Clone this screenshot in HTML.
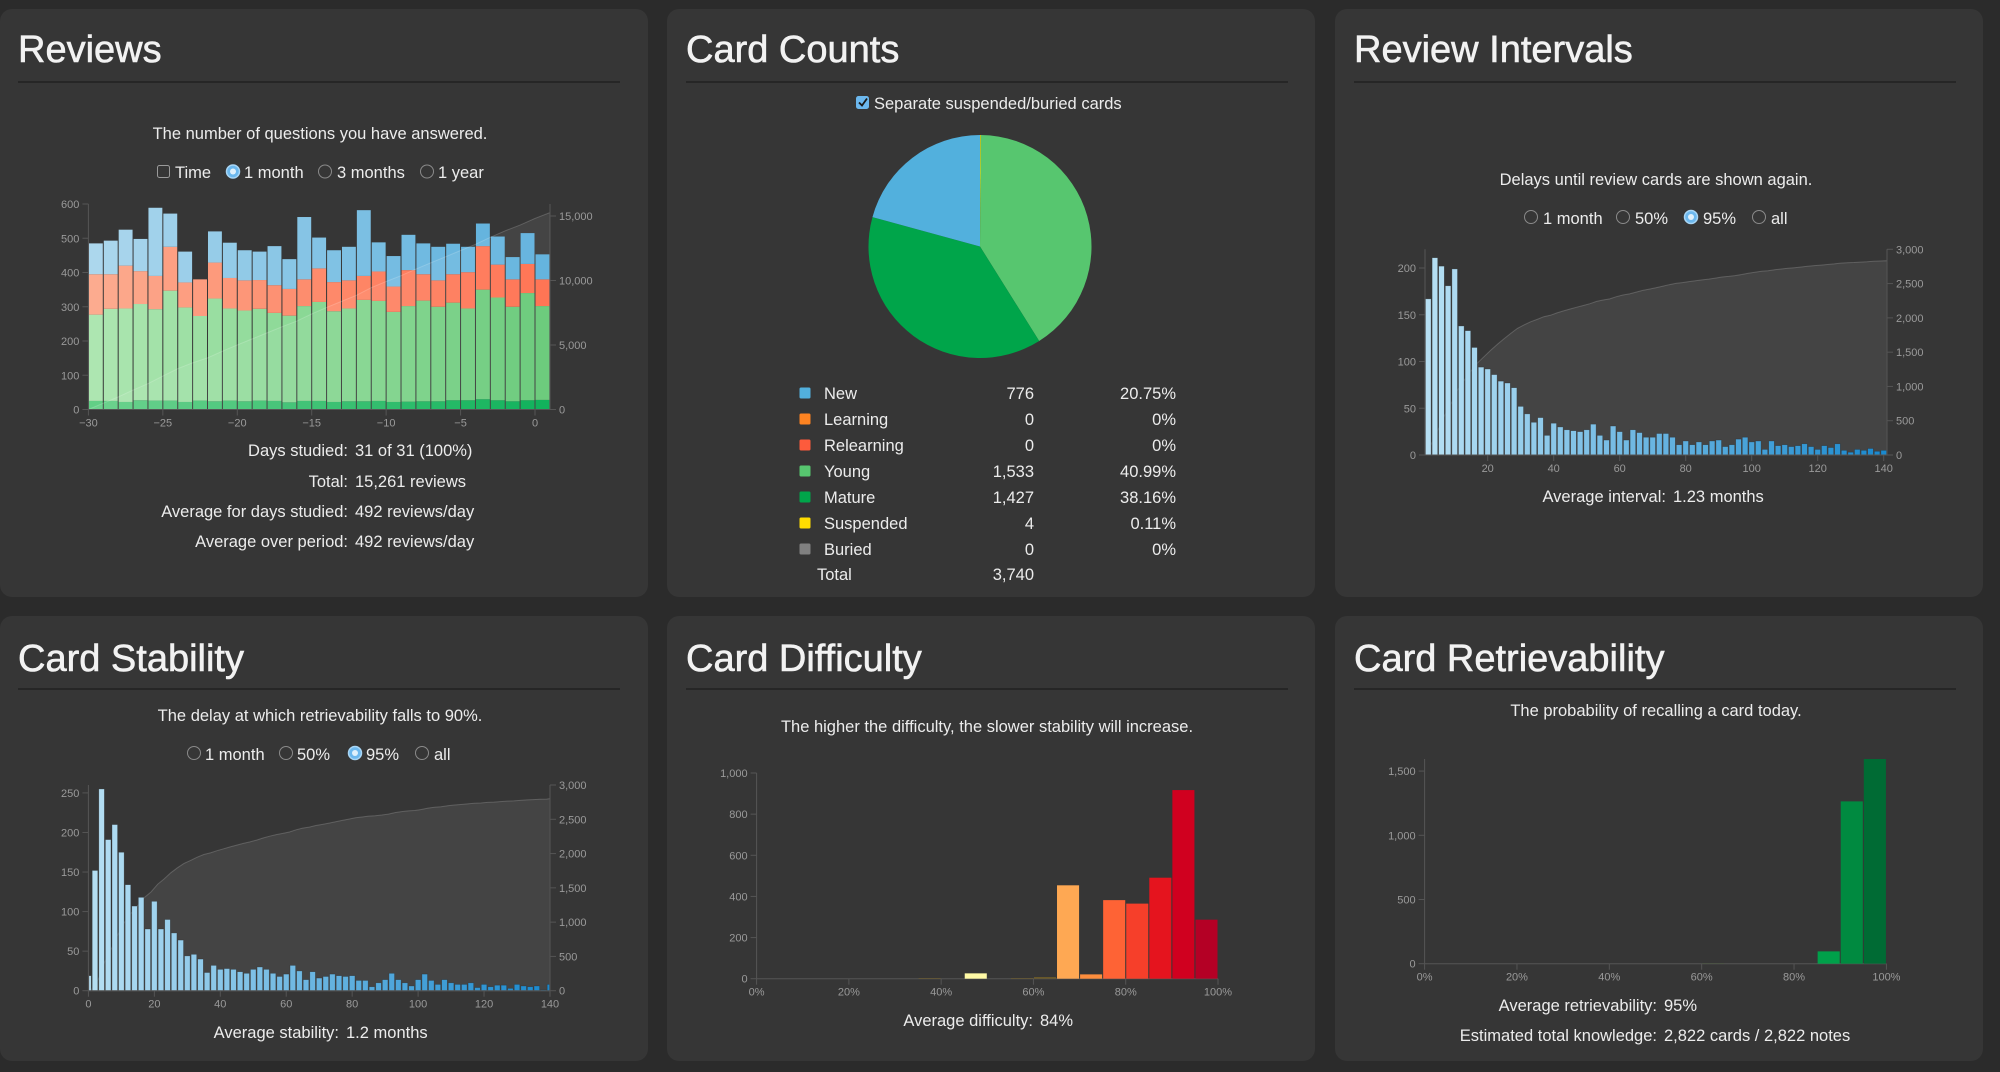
<!DOCTYPE html>
<html><head><meta charset="utf-8">
<style>
html,body{margin:0;padding:0;background:#2b2b2b;}
svg{display:block;font-family:"Liberation Sans",sans-serif;}
.t{fill:#f2f2f2;font-size:38px;stroke:#f2f2f2;stroke-width:0.6px;}
.d{fill:#ececec;font-size:16.5px;}
.tk{fill:#9a9a9a;font-size:11px;}
</style></head>
<body>
<svg id="root" width="2000" height="1072" viewBox="0 0 2000 1072" xmlns="http://www.w3.org/2000/svg">
<rect x="0" y="0" width="2000" height="1072" fill="#2b2b2b"/>
<rect x="0" y="9" width="648" height="588" rx="12" fill="#363636"/>
<rect x="667" y="9" width="648" height="588" rx="12" fill="#363636"/>
<rect x="1335" y="9" width="648" height="588" rx="12" fill="#363636"/>
<rect x="0" y="616" width="648" height="445" rx="12" fill="#363636"/>
<rect x="667" y="616" width="648" height="445" rx="12" fill="#363636"/>
<rect x="1335" y="616" width="648" height="445" rx="12" fill="#363636"/>
<text class="t" x="18" y="62">Reviews</text>
<text class="t" x="686" y="62">Card Counts</text>
<text class="t" x="1354" y="62">Review Intervals</text>
<text class="t" x="18" y="671">Card Stability</text>
<text class="t" x="686" y="671">Card Difficulty</text>
<text class="t" x="1354" y="671">Card Retrievability</text>
<g stroke="#262626" stroke-width="2">
<line x1="18" y1="82" x2="620" y2="82"/>
<line x1="686" y1="82" x2="1288" y2="82"/>
<line x1="1354" y1="82" x2="1956" y2="82"/>
<line x1="18" y1="689" x2="620" y2="689"/>
<line x1="686" y1="689" x2="1288" y2="689"/>
<line x1="1354" y1="689" x2="1956" y2="689"/>
</g>
<text class="d" x="320" y="139" text-anchor="middle">The number of questions you have answered.</text>
<text class="d" x="1656" y="185" text-anchor="middle">Delays until review cards are shown again.</text>
<text class="d" x="320" y="721" text-anchor="middle">The delay at which retrievability falls to 90%.</text>
<text class="d" x="987" y="732" text-anchor="middle">The higher the difficulty, the slower stability will increase.</text>
<text class="d" x="1656" y="716" text-anchor="middle">The probability of recalling a card today.</text>
<g><rect x="157.5" y="165.5" width="12" height="12" rx="2" fill="none" stroke="#9a9a9a"/><text class="d" x="175" y="178">Time</text></g>
<g><circle cx="233" cy="171.5" r="6.5" fill="#6cb8ee" stroke="#a9d6f5" stroke-width="1.5"/><circle cx="233" cy="171.5" r="3" fill="#dff0fb"/><text class="d" x="244" y="178">1 month</text></g>
<g><circle cx="325" cy="171.5" r="6.5" fill="none" stroke="#8a8a8a"/><text class="d" x="337" y="178">3 months</text></g>
<g><circle cx="427" cy="171.5" r="6.5" fill="none" stroke="#8a8a8a"/><text class="d" x="438" y="178">1 year</text></g>
<g><circle cx="1531" cy="217" r="6.5" fill="none" stroke="#8a8a8a"/><text class="d" x="1543" y="224">1 month</text></g>
<g><circle cx="1623" cy="217" r="6.5" fill="none" stroke="#8a8a8a"/><text class="d" x="1635" y="224">50%</text></g>
<g><circle cx="1691" cy="217" r="6.5" fill="#6cb8ee" stroke="#a9d6f5" stroke-width="1.5"/><circle cx="1691" cy="217" r="3" fill="#dff0fb"/><text class="d" x="1703" y="224">95%</text></g>
<g><circle cx="1759" cy="217" r="6.5" fill="none" stroke="#8a8a8a"/><text class="d" x="1771" y="224">all</text></g>
<g><circle cx="194" cy="753" r="6.5" fill="none" stroke="#8a8a8a"/><text class="d" x="205" y="760">1 month</text></g>
<g><circle cx="286" cy="753" r="6.5" fill="none" stroke="#8a8a8a"/><text class="d" x="297" y="760">50%</text></g>
<g><circle cx="355" cy="753" r="6.5" fill="#6cb8ee" stroke="#a9d6f5" stroke-width="1.5"/><circle cx="355" cy="753" r="3" fill="#dff0fb"/><text class="d" x="366" y="760">95%</text></g>
<g><circle cx="422" cy="753" r="6.5" fill="none" stroke="#8a8a8a"/><text class="d" x="434" y="760">all</text></g>
<g><rect x="856" y="96" width="13" height="13" rx="2.5" fill="#6cb8ee"/><path d="M859 102.5 l3 3 l5 -7" stroke="#1a1a1a" stroke-width="1.8" fill="none"/><text class="d" x="874" y="109">Separate suspended/buried cards</text></g>
<g class="d">
<text class="d" x="348" y="456" text-anchor="end">Days studied:</text><text class="d" x="355" y="456">31 of 31 (100%)</text>
<text class="d" x="348" y="487" text-anchor="end">Total:</text><text class="d" x="355" y="487">15,261 reviews</text>
<text class="d" x="348" y="517" text-anchor="end">Average for days studied:</text><text class="d" x="355" y="517">492 reviews/day</text>
<text class="d" x="348" y="547" text-anchor="end">Average over period:</text><text class="d" x="355" y="547">492 reviews/day</text>
</g>
<g><text class="d" x="1666" y="502" text-anchor="end">Average interval:</text><text class="d" x="1673" y="502">1.23 months</text></g>
<g><text class="d" x="339" y="1038" text-anchor="end">Average stability:</text><text class="d" x="346" y="1038">1.2 months</text></g>
<g><text class="d" x="1033" y="1026" text-anchor="end">Average difficulty:</text><text class="d" x="1040" y="1026">84%</text></g>
<g><text class="d" x="1657" y="1011" text-anchor="end">Average retrievability:</text><text class="d" x="1664" y="1011">95%</text>
<text class="d" x="1657" y="1041" text-anchor="end">Estimated total knowledge:</text><text class="d" x="1664" y="1041">2,822 cards / 2,822 notes</text></g>
<g id="charts"></g>
</svg>
<script>
const revDays=[-30,-29,-28,-27,-26,-25,-24,-23,-22,-21,-20,-19,-18,-17,-16,-15,-14,-13,-12,-11,-10,-9,-8,-7,-6,-5,-4,-3,-2,-1,0];
const revMature=[25,25,22,27,26,26,22,26,24,26,24,26,25,21,25,25,22,24,24,25,22,23,24,24,27,27,30,27,24,27,28];
const revYoung=[252,269,273,281,267,321,276,247,300,269,265,268,257,253,277,289,265,271,296,292,263,279,294,276,285,268,320,300,276,313,274];
const revLearn=[118,101,125,96,97,128,73,107,105,89,88,84,81,78,78,98,85,82,70,86,74,105,77,77,83,106,127,96,80,85,78];
const revNew=[90,98,105,94,199,97,90,0,91,103,88,83,114,87,182,90,93,98,192,85,89,103,90,98,89,74,66,82,65,90,73];
const revLeftTicks=[0,100,200,300,400,500,600];
const revRightTicks=[0,5000,10000,15000];
const revXTicks=[-30,-25,-20,-15,-10,-5,0];
const ccLabels=["New","Learning","Relearning","Young","Mature","Suspended","Buried"];
const ccCounts=[776,0,0,1533,1427,4,0];
const ccPercents=["20.75%","0%","0%","40.99%","38.16%","0.11%","0%"];
const ccColors=["#52b0dd","#fd8321","#fd5b3c","#57c66f","#00a54a","#ffdc00","#808080"];
const ccPieOrder=[5,3,4,0];
const intVals=[167,211,202,181,199,138,133,115,94,92,86,79,77,72,52,44,35,40,21,34,30,27,26,25,27,33,21,16,31,25,16,27,24,19,19,23,23,19,11,15,11,14,11,15,16,9,11,17,19,14,15,6,15,10,11,9,10,12,9,6,10,8,12,5,3,6,5,7,4,5];
const intLeftTicks=[0,50,100,150,200];
const intRightTicks=[0,500,1000,1500,2000,2500,3000];
const intXTicks=[20,40,60,80,100,120,140];
const stabVals=[19,152,255,191,210,175,134,107,118,78,113,78,90,73,64,44,46,40,23,32,27,28,27,24,22,27,30,27,22,18,21,32,25,14,24,16,18,21,19,18,19,13,13,5,10,14,22,14,10,6,14,21,13,8,14,10,8,8,10,4,8,5,7,7,3,8,6,5,6,1,8];
const stabLeftTicks=[0,50,100,150,200,250];
const stabRightTicks=[0,500,1000,1500,2000,2500,3000];
const stabXTicks=[0,20,40,60,80,100,120,140];
const diffVals=[0,0,0,0,0,0,0,3,0,26,0,3,8,454,21,382,365,491,917,287];
const diffLeftTicks=[0,200,400,600,800,1000];
const pctTicks=[0,20,40,60,80,100];
const retVals=[0,0,0,0,0,0,0,0,0,0,0,0,3,0,0,0,0,96,1264,1594];
const retLeftTicks=[0,500,1000,1500];

const NS='http://www.w3.org/2000/svg';
const root=document.getElementById('charts');
function mk(tag,parent){const e=document.createElementNS(NS,tag);parent.appendChild(e);return e;}
function lin(d0,d1,r0,r1){return v=>r0+(v-d0)/(d1-d0)*(r1-r0);}
function hex(c){return [parseInt(c.slice(1,3),16),parseInt(c.slice(3,5),16),parseInt(c.slice(5,7),16)];}
function mix(a,b,t){const A=hex(a),B=hex(b);return 'rgb('+A.map((v,i)=>Math.round(v+(B[i]-v)*t)).join(',')+')';}
function fmt(v){return v.toLocaleString('en-US');}
function txt(parent,x,y,s,anchor){const t=mk('text',parent);t.setAttribute('x',x);t.setAttribute('y',y);t.setAttribute('class','tk');t.setAttribute('text-anchor',anchor);t.textContent=s;return t;}
function line(parent,x1,y1,x2,y2){const l=mk('line',parent);l.setAttribute('x1',x1);l.setAttribute('y1',y1);l.setAttribute('x2',x2);l.setAttribute('y2',y2);l.setAttribute('stroke','#555');l.setAttribute('stroke-width','1');return l;}
function leftAxis(g,ticks,y,x,yTop,yBot,label){
  const ax=mk('g',g);
  
  
  line(ax,x,yTop,x,yBot);
  ticks.forEach(t=>{line(ax,x-6,y(t),x,y(t));txt(ax,x-9,y(t)+4,label?label(t):fmt(t),'end');});
}
function rightAxis(g,ticks,y,x,yTop,yBot){
  const ax=mk('g',g);
  
  
  line(ax,x,yTop,x,yBot);
  ticks.forEach(t=>{line(ax,x,y(t),x+6,y(t));txt(ax,x+9,y(t)+4,fmt(t),'start');});
}
function bottomAxis(g,ticks,x,y0,x0,x1,label){
  const ax=mk('g',g);
  
  
  line(ax,x0,y0,x1,y0);
  ticks.forEach(t=>{line(ax,x(t),y0,x(t),y0+6);txt(ax,x(t),y0+17,label(t),'middle');});
}
function rect(parent,x,y,w,h,fill){const r=mk('rect',parent);r.setAttribute('x',x);r.setAttribute('y',y);r.setAttribute('width',Math.max(0,w));r.setAttribute('height',Math.max(0,h));r.setAttribute('fill',fill);return r;}
function area(parent,pts,y0){
  const p=mk('path',parent);
  let d='M'+pts[0][0]+','+y0;pts.forEach(q=>d+='L'+q[0].toFixed(1)+','+q[1].toFixed(1));d+='L'+pts[pts.length-1][0]+','+y0+'Z';
  p.setAttribute('d',d);p.setAttribute('fill','rgba(255,255,255,0.07)');p.setAttribute('stroke','rgba(255,255,255,0.18)');p.setAttribute('stroke-width','1');
  return p;
}

(function(){
  const g=mk('g',root);
  
  
  const x=lin(-30,0,88.4,535),y=lin(0,600,409.5,204),yr=lin(0,15930,409.5,204);
  const bw=x(-29)-x(-30);
  revDays.forEach((d,i)=>{
    const t=i/(revDays.length-1);
    const segs=[[revMature[i],mix('#62cf86','#00ad50',t),'mature'],[revYoung[i],mix('#ade6b1','#62c874',t),'young'],[revLearn[i],mix('#fcab8f','#ff6b49',t),'learning'],[revNew[i],mix('#acd7ed','#5aafdc',t),'new']];
    let base=0;
    segs.forEach(s=>{
      const r=rect(g,x(d)+0.5,y(base+s[0]),bw-1,y(base)-y(base+s[0]),s[1]);
      
      
      base+=s[0];
    });
  });
  let cum=0;const pts=[[x(-30),yr(0)]];
  revDays.forEach((d,i)=>{cum+=revNew[i]+revLearn[i]+revYoung[i]+revMature[i];pts.push([x(d)+bw,yr(cum)]);});
  const a=area(g,pts,409.5);
  
  
  leftAxis(g,revLeftTicks,y,88.4,204,409.5);
  rightAxis(g,revRightTicks,yr,550,204,409.5);
  bottomAxis(g,revXTicks,x,409.5,88.4,550,v=>v<0?'\u2212'+(-v):''+v);
})();

(function(){
  const g=mk('g',root);
  
  
  const cx=980,cy=246.5,r=111.5;
  const total=ccCounts.reduce((a,b)=>a+b,0);
  let ang=0;
  ccPieOrder.forEach(i=>{
    const a0=ang,a1=ang+ccCounts[i]/total*2*Math.PI;ang=a1;
    const p=mk('path',g);
    const x0=cx+r*Math.sin(a0),y0=cy-r*Math.cos(a0),x1=cx+r*Math.sin(a1),y1=cy-r*Math.cos(a1);
    p.setAttribute('d','M'+cx+','+cy+'L'+x0+','+y0+'A'+r+','+r+' 0 '+((a1-a0)>Math.PI?1:0)+' 1 '+x1+','+y1+'Z');
    p.setAttribute('fill',ccColors[i]);
    
    
  });
  const lg=mk('g',root);
  
  
  const rowsY=[393,419,445,471,497,523,549];
  ccLabels.forEach((l,i)=>{
    const row=mk('g',lg);
    
    
    rect(row,799.5,rowsY[i]-5.5,11,11,ccColors[i]).setAttribute('rx','1.5');
    const a=mk('text',row);a.setAttribute('class','d');a.setAttribute('x',824);a.setAttribute('y',rowsY[i]+6);a.textContent=l;
    const b=mk('text',row);b.setAttribute('class','d');b.setAttribute('x',1034);b.setAttribute('y',rowsY[i]+6);b.setAttribute('text-anchor','end');b.textContent=fmt(ccCounts[i]);
    const c=mk('text',row);c.setAttribute('class','d');c.setAttribute('x',1176);c.setAttribute('y',rowsY[i]+6);c.setAttribute('text-anchor','end');c.textContent=ccPercents[i];
  });
  const tr=mk('g',lg);
  
  
  const a=mk('text',tr);a.setAttribute('class','d');a.setAttribute('x',817);a.setAttribute('y',580);a.textContent='Total';
  const b=mk('text',tr);b.setAttribute('class','d');b.setAttribute('x',1034);b.setAttribute('y',580);b.setAttribute('text-anchor','end');b.textContent=fmt(total);
})();

function histCum(name,vals,starts,ends,xd,xr,y0,yTopPx,leftMax,rightMax,lt,rt,xt){
  const g=mk('g',root);
  
  
  const x=lin(xd[0],xd[1],xr[0],xr[1]),y=lin(0,leftMax,y0,yTopPx),yr=lin(0,rightMax,y0,yTopPx);
  let cum=0;const pts=[[x(starts[0]),y0]];
  vals.forEach((v,i)=>{cum+=v;pts.push([x(ends[i]),yr(cum)]);});
  const a=area(g,pts,y0);
  
  
  vals.forEach((v,i)=>{
    const t=i/(vals.length-1);
    const r=rect(g,x(starts[i])+0.5,y(v),x(ends[i])-x(starts[i])-1,y0-y(v),mix('#b6dff3','#1a89ce',t));
    r.setAttribute('stroke','rgba(40,40,40,0.5)');r.setAttribute('stroke-width','0.6');
    
    
  });
  leftAxis(g,lt,y,xr[0],yTopPx,y0);
  rightAxis(g,rt,yr,xr[1],yTopPx,y0);
  bottomAxis(g,xt,x,y0,xr[0],xr[1],v=>''+v);
}
const intStarts=intVals.map((v,i)=>1+2*i),intEnds=intStarts.map(s=>s+2);
histCum('review-intervals-chart',intVals,intStarts,intEnds,[1,141],[1425,1887],455,249.3,220,3000,intLeftTicks,intRightTicks,intXTicks);
const stabStarts=stabVals.map((v,i)=>i===0?0:2*i-1),stabEnds=stabStarts.map((s,i)=>i===0?1:Math.min(s+2,140));
histCum('card-stability-chart',stabVals,stabStarts,stabEnds,[0,140],[88.4,550],990.7,785,260,3000,stabLeftTicks,stabRightTicks,stabXTicks);

function pctHist(name,vals,x0,x1,y0,yTopPx,maxV,lt,colorFn){
  const g=mk('g',root);
  
  
  const x=lin(0,100,x0,x1),y=lin(0,maxV,y0,yTopPx);
  leftAxis(g,lt,y,x0,yTopPx,y0);
  bottomAxis(g,pctTicks,x,y0,x0,x1,v=>v+'%');
  vals.forEach((v,i)=>{
    if(v<=0)return;
    const r=rect(g,x(i*5)+0.5,y(v),x(5)-x(0)-1,y0-y(v),colorFn(i,v));
    
    
  });
}
const diffPalette=['#fff9b0','#fff3a0','#ffe98a','#fedc77','#fecb65','#feb553','#fea34b','#fd8f3d','#fd7634','#fc5b2d','#f53f28','#e8261f','#d90f21','#cf0022','#bd0026','#aa0026'];
pctHist('card-difficulty-chart',diffVals,756.6,1218,978.7,773,1000,diffLeftTicks,(i,v)=>{
  if(v<15)return '#6b5a2a';
  const m={9:'#fffaa6',13:'#fea853',14:'#fd8e3d',15:'#fe6335',16:'#f63f2a',17:'#e5141e',18:'#d0001f',19:'#b40025'};
  return m[i]||diffPalette[Math.min(15,i)];
});
pctHist('card-retrievability-chart',retVals,1424.6,1886.4,963.7,759,1594,retLeftTicks,(i,v)=>{
  if(v<15)return '#4a5a3a';
  const m={17:'#00a04a',18:'#008a40',19:'#006b34'};
  return m[i]||'#00a04a';
});
</script>
</body></html>
